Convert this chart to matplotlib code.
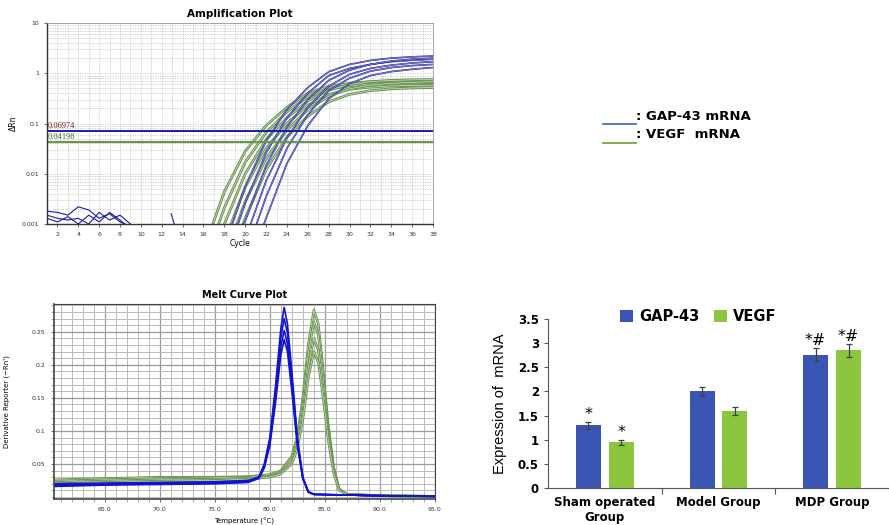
import matplotlib
matplotlib.use("Agg")
import matplotlib.pyplot as plt
from matplotlib.lines import Line2D
from matplotlib.ticker import LogLocator, NullFormatter, MultipleLocator

# ---------------- data ----------------
# amplification plot (delta Rn per cycle, a few wells per gene)
amp_cycles = [16, 18, 20, 22, 24, 26, 28, 30, 32, 34, 36, 38]
gap_amp = [
    [0.00002, 0.00035, 0.0056, 0.045, 0.19, 0.52, 1.07, 1.50, 1.80, 2.00, 2.12, 2.20],
    [0.00001, 0.00016, 0.0026, 0.026, 0.13, 0.40, 0.90, 1.25, 1.50, 1.70, 1.82, 1.90],
    [0.00001, 0.00010, 0.00115, 0.0145, 0.085, 0.30, 0.72, 1.15, 1.50, 1.75, 1.90, 2.00],
    [0.00001, 0.00005, 0.0005, 0.0072, 0.052, 0.21, 0.55, 0.95, 1.25, 1.45, 1.60, 1.70],
    [0.00001, 0.00003, 0.00022, 0.0035, 0.032, 0.15, 0.45, 0.80, 1.10, 1.30, 1.42, 1.50],
    [0.00001, 0.00003, 0.00010, 0.0013, 0.016, 0.091, 0.31, 0.62, 0.90, 1.08, 1.20, 1.30],
]
vegf_amp = [
    [0.0003, 0.0044, 0.028, 0.091, 0.21, 0.40, 0.55, 0.63, 0.68, 0.70, 0.71, 0.72],
    [0.00014, 0.0021, 0.017, 0.066, 0.17, 0.34, 0.48, 0.56, 0.61, 0.63, 0.64, 0.65],
    [0.0001, 0.0010, 0.010, 0.048, 0.13, 0.28, 0.46, 0.60, 0.68, 0.72, 0.74, 0.75],
    [0.00005, 0.00045, 0.0054, 0.032, 0.10, 0.23, 0.38, 0.48, 0.53, 0.56, 0.57, 0.58],
    [0.00003, 0.0002, 0.0028, 0.020, 0.074, 0.19, 0.35, 0.49, 0.58, 0.63, 0.66, 0.68],
    [0.00002, 0.0001, 0.0013, 0.012, 0.054, 0.14, 0.27, 0.38, 0.45, 0.49, 0.51, 0.52],
]
noise_cycles = [1, 2, 3, 4, 5, 6, 7, 8, 9]
noise_amp = [
    [0.0018, 0.0017, 0.0015, 0.0022, 0.0019, 0.0013, 0.0016, 0.0011, 0.0009],
    [0.0015, 0.0013, 0.0012, 0.0013, 0.0010, 0.0017, 0.0012, 0.0015, 0.0010],
    [0.0013, 0.0011, 0.0014, 0.0010, 0.0015, 0.0011, 0.0017, 0.0012, 0.0008],
]
gap_threshold = 0.06974
vegf_threshold = 0.04198
amp_xticks = list(range(2, 39, 2))

# melt curve plot (derivative reporter vs temperature)
gap_temp = [60.4, 65, 70, 75, 78, 79, 79.5, 80, 80.5, 81, 81.3, 81.6, 82, 82.5, 83, 83.5, 84, 87, 90, 95]
gap_melt = [
    [0.019, 0.020, 0.021, 0.022, 0.024, 0.030, 0.050, 0.090, 0.165, 0.255, 0.287, 0.262, 0.190, 0.090, 0.030, 0.008, 0.004, 0.003, 0.002, 0.001],
    [0.017, 0.019, 0.020, 0.021, 0.023, 0.029, 0.048, 0.086, 0.157, 0.242, 0.270, 0.248, 0.180, 0.086, 0.029, 0.008, 0.004, 0.003, 0.002, 0.001],
    [0.020, 0.021, 0.022, 0.023, 0.025, 0.030, 0.046, 0.082, 0.148, 0.228, 0.252, 0.232, 0.170, 0.082, 0.028, 0.008, 0.004, 0.003, 0.002, 0.001],
    [0.016, 0.018, 0.019, 0.020, 0.022, 0.028, 0.044, 0.078, 0.140, 0.215, 0.238, 0.220, 0.160, 0.078, 0.027, 0.007, 0.004, 0.003, 0.002, 0.001],
]
vegf_temp = [60.4, 65, 70, 75, 78, 80, 81, 82, 82.5, 83, 83.5, 84, 84.4, 84.8, 85.3, 85.8, 86.3, 87, 90, 95]
vegf_melt = [
    [0.026, 0.028, 0.030, 0.030, 0.031, 0.034, 0.040, 0.062, 0.092, 0.150, 0.232, 0.283, 0.262, 0.200, 0.110, 0.045, 0.012, 0.004, 0.002, 0.001],
    [0.024, 0.026, 0.028, 0.029, 0.030, 0.032, 0.038, 0.058, 0.086, 0.140, 0.217, 0.265, 0.245, 0.187, 0.103, 0.042, 0.011, 0.004, 0.002, 0.001],
    [0.022, 0.024, 0.026, 0.027, 0.028, 0.031, 0.036, 0.054, 0.079, 0.127, 0.197, 0.240, 0.222, 0.170, 0.094, 0.039, 0.011, 0.004, 0.002, 0.001],
    [0.020, 0.022, 0.024, 0.025, 0.027, 0.030, 0.035, 0.050, 0.073, 0.117, 0.181, 0.220, 0.204, 0.156, 0.087, 0.036, 0.010, 0.004, 0.002, 0.001],
]
melt_xticks = [65.0, 70.0, 75.0, 80.0, 85.0, 90.0, 95.0]
melt_yticks = [0.05, 0.1, 0.15, 0.2, 0.25]

# bar chart of relative expression
groups = ["Sham operated\nGroup", "Model Group", "MDP Group"]
gap_expr = [1.30, 2.00, 2.76]
gap_err = [0.07, 0.10, 0.14]
vegf_expr = [0.95, 1.59, 2.85]
vegf_err = [0.05, 0.08, 0.14]
gap_marks = ["*", "", "*#"]
vegf_marks = ["*", "", "*#"]

AMP_BLUE = "#1c1ca0"
AMP_GREEN = "#6a9450"
MELT_BLUE = "#1212d0"
BAR_BLUE = "#3a56b2"
BAR_GREEN = "#8cc63f"

fig = plt.figure(figsize=(8.89, 5.25), dpi=100)

# ---------------- amplification plot ----------------
ax1 = fig.add_axes([47 / 889, 1 - 224 / 525, 386 / 889, 201 / 525])
ax1.set_yscale("log")
ax1.set_xlim(1, 38)
ax1.set_ylim(0.001, 10)
ax1.xaxis.set_minor_locator(MultipleLocator(1))
ax1.yaxis.set_minor_locator(LogLocator(base=10, subs=range(2, 10)))
ax1.yaxis.set_minor_formatter(NullFormatter())
ax1.grid(True, which="both", color="#c8c8c8", linestyle=(0, (1.5, 1.5)), linewidth=0.6)
ax1.set_axisbelow(True)

for ys in noise_amp:
    ax1.plot(noise_cycles, ys, color=AMP_BLUE, lw=0.8)
ax1.plot([12.9, 13.2], [0.0016, 0.001], color=AMP_BLUE, lw=0.8)
for ys in vegf_amp:
    ax1.plot(amp_cycles, ys, color=AMP_GREEN, lw=2.0)
    ax1.plot(amp_cycles, ys, color="white", lw=0.5, alpha=0.7)
for ys in gap_amp:
    ax1.plot(amp_cycles, ys, color=AMP_BLUE, lw=1.2)
    ax1.plot(amp_cycles, ys, color="white", lw=0.35, alpha=0.7)
ax1.axhline(gap_threshold, color=AMP_BLUE, lw=1.4)
ax1.axhline(vegf_threshold, color=AMP_GREEN, lw=1.6)
ax1.text(1.05, gap_threshold * 1.06, f"{gap_threshold}", color="#7a1c1c",
         fontsize=6, family="Liberation Serif", va="bottom")
ax1.text(1.05, vegf_threshold * 1.06, f"{vegf_threshold}", color="#3f6a2a",
         fontsize=6, family="Liberation Serif", va="bottom")

ax1.set_xticks(amp_xticks)
ax1.set_yticks([0.001, 0.01, 0.1, 1, 10])
ax1.set_yticklabels(["0.001", "0.01", "0.1", "1", "10"])
ax1.tick_params(labelsize=4.5, length=2, width=0.5, colors="#333333")
ax1.tick_params(which="minor", length=0)
ax1.set_title("Amplification Plot", fontsize=7.5, fontweight="bold", pad=4)
ax1.set_xlabel("Cycle", fontsize=5.5, labelpad=2)
ax1.set_ylabel("ΔRn", fontsize=5.5, labelpad=3)
for s in ax1.spines.values():
    s.set_color("#999999")
    s.set_linewidth(0.6)
ax1.spines["left"].set_color("#333333")
ax1.spines["bottom"].set_color("#333333")
ax1.spines["left"].set_linewidth(1.0)
ax1.spines["bottom"].set_linewidth(1.0)

# ---------------- melt curve plot ----------------
ax2 = fig.add_axes([54 / 889, 1 - 499 / 525, 381 / 889, 195 / 525])
ax2.set_xlim(60.4, 95)
ax2.set_ylim(-0.003, 0.292)
ax2.xaxis.set_minor_locator(MultipleLocator(1))
ax2.yaxis.set_minor_locator(MultipleLocator(0.01))
ax2.grid(True, which="major", color="#9a9a9a", linewidth=0.9)
ax2.grid(True, which="minor", color="#bbbbbb", linewidth=0.7)
ax2.set_axisbelow(True)

for ys in vegf_melt:
    ax2.plot(vegf_temp, ys, color=AMP_GREEN, lw=1.8)
    ax2.plot(vegf_temp, ys, color="white", lw=0.4, alpha=0.8)
for ys in gap_melt:
    ax2.plot(gap_temp, ys, color=MELT_BLUE, lw=1.2)

ax2.set_xticks(melt_xticks)
ax2.set_xticklabels([f"{t:.1f}" for t in melt_xticks])
ax2.set_yticks(melt_yticks)
ax2.set_yticklabels([f"{v:g}" for v in melt_yticks])
ax2.tick_params(labelsize=4.5, length=2.5, width=0.5, colors="#333333")
ax2.tick_params(which="minor", length=2, width=0.4, colors="#666666")
ax2.set_title("Melt Curve Plot", fontsize=7, fontweight="bold", pad=4)
ax2.set_xlabel("Temperature (°C)", fontsize=5, labelpad=4)
ax2.set_ylabel("Derivative Reporter (−Rn')", fontsize=5, labelpad=16)
for s in ax2.spines.values():
    s.set_color("#444444")
    s.set_linewidth(0.8)
ax2.spines["left"].set_linewidth(1.2)
ax2.spines["bottom"].set_linewidth(1.2)

# ---------------- line key between the curve plots ----------------
fig.add_artist(Line2D([603 / 889, 636 / 889], [1 - 124 / 525, 1 - 124 / 525],
                      color="#4472c4", lw=1.3))
fig.add_artist(Line2D([603 / 889, 636 / 889], [1 - 143 / 525, 1 - 143 / 525],
                      color="#70ad47", lw=1.3))
fig.text(636 / 889, 1 - 116 / 525, ": GAP-43 mRNA", fontsize=9.5, fontweight="bold",
         va="center", ha="left")
fig.text(636 / 889, 1 - 135 / 525, ": VEGF  mRNA", fontsize=9.5, fontweight="bold",
         va="center", ha="left")

# ---------------- bar chart ----------------
ax3 = fig.add_axes([548 / 889, 1 - 488 / 525, 341 / 889, 169 / 525])
x = list(range(len(groups)))
w = 0.22
off = 0.145
gx = [i - off for i in x]
vx = [i + off for i in x]
ax3.bar(gx, gap_expr, w, color=BAR_BLUE, label="GAP-43", zorder=2)
ax3.bar(vx, vegf_expr, w, color=BAR_GREEN, label="VEGF", zorder=2)
ax3.errorbar(gx, gap_expr, yerr=gap_err, fmt="none", ecolor="#404040",
             elinewidth=0.9, capsize=2, capthick=0.9, zorder=3)
ax3.errorbar(vx, vegf_expr, yerr=vegf_err, fmt="none", ecolor="#404040",
             elinewidth=0.9, capsize=2, capthick=0.9, zorder=3)
for xs, vals, errs, marks in [(gx, gap_expr, gap_err, gap_marks),
                              (vx, vegf_expr, vegf_err, vegf_marks)]:
    for xi, v, e, m in zip(xs, vals, errs, marks):
        if m:
            ax3.text(xi, v + e + 0.0, m, ha="center", va="bottom",
                     fontsize=11.5, zorder=4)

ax3.set_xlim(-0.5, 2.47)
ax3.set_ylim(0, 3.5)
ax3.set_yticks([0, 0.5, 1, 1.5, 2, 2.5, 3, 3.5])
ax3.set_yticklabels(["0", "0.5", "1", "1.5", "2", "2.5", "3", "3.5"])
ax3.set_xticks([0.5, 1.5, 2.5])
ax3.set_xticklabels([])
ax3.set_xticks(x, minor=True)
ax3.set_xticklabels(groups, minor=True, fontsize=8.5, fontweight="bold")
ax3.tick_params(axis="x", which="minor", length=0, pad=6)
ax3.tick_params(axis="x", which="major", length=4, width=0.8, color="#555555")
ax3.tick_params(axis="y", labelsize=8.5, length=3, width=0.8, color="#555555")
for lab in ax3.get_yticklabels():
    lab.set_fontweight("bold")
ax3.spines["top"].set_visible(False)
ax3.spines["right"].set_visible(False)
ax3.spines["left"].set_color("#555555")
ax3.spines["bottom"].set_color("#555555")
ax3.set_ylabel("Expression of  mRNA", fontsize=10.5, family="Liberation Sans",
               labelpad=8)
ax3.legend(loc="center", bbox_to_anchor=(0.44, 1.012), ncol=2, frameon=False,
           handlelength=0.9, handleheight=0.9, handletextpad=0.4, columnspacing=1.0,
           prop={"size": 10.5, "weight": "bold"})

fig.savefig("out.png", dpi=100)
